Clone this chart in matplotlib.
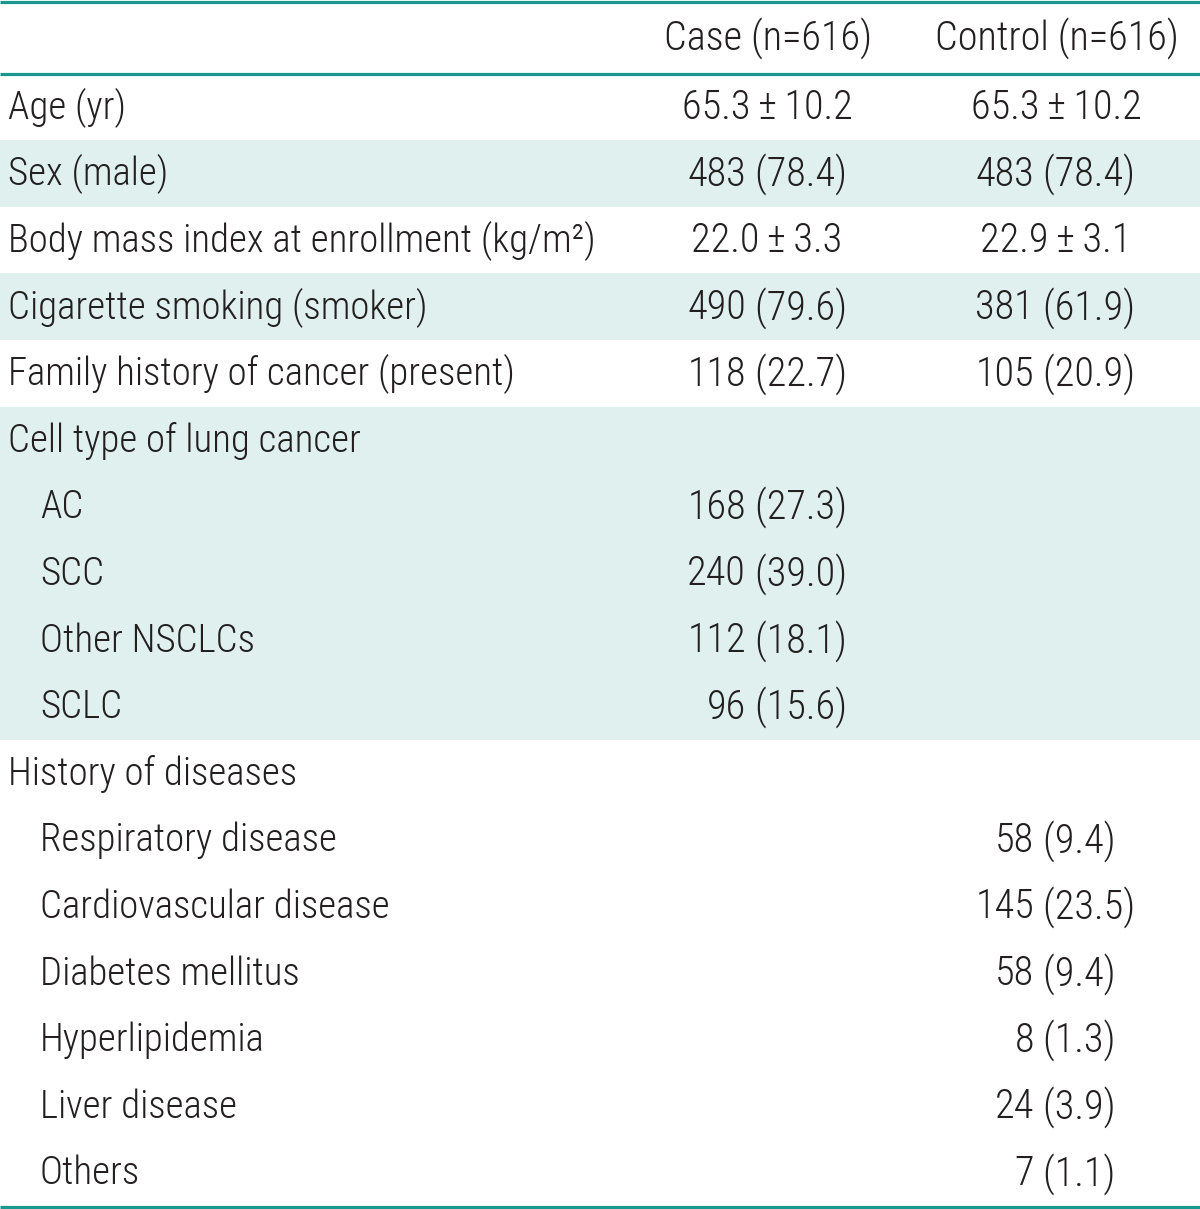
import matplotlib
matplotlib.use("Agg")
import matplotlib.pyplot as plt
from matplotlib.patches import Rectangle

# ---- data ----
col_headers = ["Case (n=616)", "Control (n=616)"]
row_labels = [
    "Age (yr)",
    "Sex (male)",
    "Body mass index at enrollment (kg/m\u00b2)",
    "Cigarette smoking (smoker)",
    "Family history of cancer (present)",
    "Cell type of lung cancer",
    "AC",
    "SCC",
    "Other NSCLCs",
    "SCLC",
    "History of diseases",
    "Respiratory disease",
    "Cardiovascular disease",
    "Diabetes mellitus",
    "Hyperlipidemia",
    "Liver disease",
    "Others",
]
indent = [0, 0, 0, 0, 0, 0, 1, 1, 1, 1, 0, 1, 1, 1, 1, 1, 1]
case_vals = ["65.3\u00b110.2", "483 (78.4)", "22.0\u00b13.3", "490 (79.6)", "118 (22.7)", "",
             "168 (27.3)", "240 (39.0)", "112 (18.1)", "96 (15.6)", "",
             "", "", "", "", "", ""]
control_vals = ["65.3\u00b110.2", "483 (78.4)", "22.9\u00b13.1", "381 (61.9)", "105 (20.9)", "",
                "", "", "", "", "",
                "58 (9.4)", "145 (23.5)", "58 (9.4)", "8 (1.3)", "24 (3.9)", "7 (1.1)"]
shaded = [False, True, False, True, False, True, True, True, True, True,
          False, False, False, False, False, False, False]

# ---- style ----
W, H = 1200, 1209
LINE = "#17998f"
SHADE = "#dff0ef"
TXT = "#231f20"
FONT = ["Roboto Condensed", "Roboto", "DejaVu Sans"]
FS_LAB = 28
FS_VAL = 29
WEIGHT = "light"

fig = plt.figure(figsize=(W / 100, H / 100), dpi=100)
ax = fig.add_axes([0, 0, 1, 1])
ax.set_xlim(0, W)
ax.set_ylim(H, 0)
ax.axis("off")

header_bottom = 73.5
row_h = (1206 - header_bottom) / len(row_labels)

col_center = [767, 1056]
col_split = [746, 1034]  # x where number ends and " (pct)" begins


def txt(x, y, s, ha, fs):
    ax.text(x, y, s, ha=ha, va="center", fontsize=fs, family=FONT,
            fontweight=WEIGHT, color=TXT)


for i, lab in enumerate(row_labels):
    y0 = header_bottom + i * row_h
    yc = y0 + row_h / 2 + 1
    if shaded[i]:
        ax.add_patch(Rectangle((0, y0), W, row_h, facecolor=SHADE, edgecolor="none", zorder=0))
    txt(8 + 32 * indent[i], yc, lab, "left", FS_LAB)
    for c, vals in enumerate([case_vals, control_vals]):
        v = vals[i]
        if not v:
            continue
        if " (" in v:
            k = v.find(" (")
            txt(col_split[c], yc, v[:k], "right", FS_VAL)
            txt(col_split[c], yc, v[k:], "left", FS_VAL)
        else:
            txt(col_center[c], yc, v.replace("\u00b1", "\u2009\u00b1\u2009"), "center", FS_VAL)

for c, h in enumerate(col_headers):
    txt(col_center[c] + 1, 38, h, "center", FS_VAL)

for y in (1.5, header_bottom, 1207):
    ax.plot([0, W], [y, y], color=LINE, lw=2.3, solid_capstyle="butt", zorder=3)

fig.savefig("out.png", dpi=100)
